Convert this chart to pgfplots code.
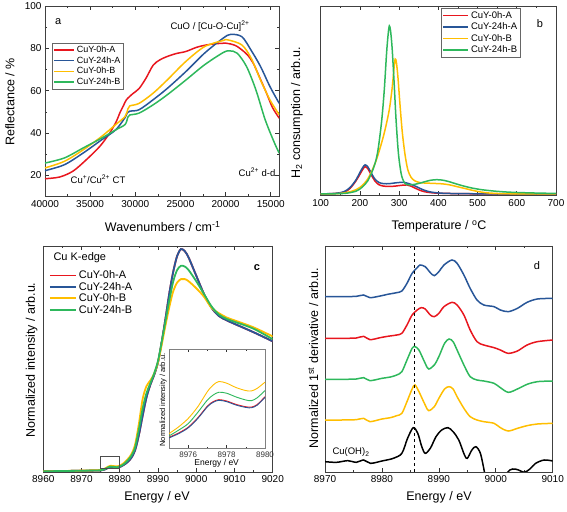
\documentclass[border=0pt]{standalone}
\usepackage{fontspec}
\setmainfont{Liberation Sans}
\usepackage{pgfplots}
\pgfplotsset{compat=1.18}
\definecolor{cred}{RGB}{232,22,30}
\definecolor{cblue}{RGB}{40,86,152}
\definecolor{cyel}{RGB}{255,190,0}
\definecolor{cgreen}{RGB}{46,184,92}
\pgfplotsset{
 base/.style={scale only axis, anchor=south west,
   axis line style={line width=0.8pt, black!75},
   tick style={black!80, line width=0.6pt},
   major tick length=4pt, minor tick length=2pt, tick align=inside,
   scaled ticks=false,
   /pgf/number format/assume math mode=true,
   /pgf/number format/set thousands separator={},
   ticklabel style={font=\fontsize{10}{12}\selectfont},
   legend cell align=left,
   legend image code/.code={\draw[##1] (0pt,0pt) -- (20pt,0pt);},
   legend image post style={line width=1.5pt, sharp plot},
   every axis plot/.append style={line width=1.5pt, no markers, smooth}},
}
\begin{document}
\begin{tikzpicture}
\useasboundingbox (0pt,0pt) rectangle (567pt,511pt);
% ---------------- panel a
\begin{axis}[base, at={(45pt,314.5pt)}, width=234.3pt, height=190.5pt,
  x dir=reverse, xmin=14050, xmax=40000, ymin=10, ymax=100,
  xtick={15000,20000,25000,30000,35000,40000}, minor x tick num=1,
  ytick={20,40,60,80,100}, minor y tick num=1,
  legend style={at={(0.03,0.806)}, anchor=north west, draw=black!60, line width=0.5pt,
    font=\fontsize{9}{10}\selectfont, inner sep=1pt, row sep=-1.5pt}]
\addplot[cred] coordinates {(40000,18.4)(38374,19.2)(36894,22)(35415,27.4)(33925,33.7)(32828,40)(32093,45.5)(31722,49.4)(31300,53)(30983,55.7)(30300,58.5)(29579,61)(28800,66)(28027,72)(27300,74.5)(26548,76)(25500,77.5)(24405,78.5)(23200,80.5)(22114,81.6)(21000,82.2)(19897,82.4)(19000,81.5)(18418,80)(17600,77)(16940,73)(16200,66)(15462,58.8)(14800,52)(14058,47)};
\addlegendentry{CuY-0h-A}
\addplot[cblue] coordinates {(40000,22.2)(37857,25)(35787,30.5)(33718,36.8)(32166,41.5)(31131,47.3)(30900,49.5)(30614,50.3)(29579,51)(28027,55.7)(26474,61)(24405,69)(22335,77.7)(20266,84.8)(19438,86.6)(18196,85.5)(17161,79)(16127,71.4)(15092,62)(14058,54)};
\addlegendentry{CuY-24h-A}
\addplot[cyel] coordinates {(40000,23.5)(37857,26.6)(35787,32)(33718,38.4)(32166,44)(31131,47.8)(30800,51.5)(30614,52.8)(29579,54)(28027,58.8)(26474,65)(24405,73.8)(22335,80.8)(20266,83.7)(19748,84)(18196,81.6)(17161,75.3)(16127,65)(15092,55.7)(14058,48.6)};
\addlegendentry{CuY-0h-B}
\addplot[cgreen] coordinates {(40000,25.8)(37857,28.2)(35787,32.9)(33718,37.6)(32166,41.5)(31131,44)(30820,47.5)(30614,48.5)(29579,49.4)(28027,53.3)(26474,58)(24405,65)(22335,72.2)(20266,78)(19541,78.8)(18713,77.7)(17679,71.4)(16644,60.4)(15609,46.2)(14575,35.2)(14058,30.5)};
\addlegendentry{CuY-24h-B}
\end{axis}
% ---------------- panel b
\begin{axis}[base, at={(320.7pt,315.5pt)}, width=235.3pt, height=189.5pt,
  xmin=100, xmax=700, ymin=-0.8, ymax=100,
  xtick={100,200,...,700}, minor x tick num=1, ytick=\empty,
  legend image code/.code={\draw[#1] (0pt,0pt) -- (25pt,0pt);},
  legend style={at={(0.5125,0.988)}, anchor=north west, draw=black!60, line width=0.5pt,
    font=\fontsize{9.5}{10}\selectfont, inner sep=1pt, row sep=-1pt}]
\addplot[cred] coordinates {(100,0)(140,0.3)(160,1)(175,3)(190,7)(200,10.5)(207,13)(213,14.5)(220,13.5)(228,10.5)(238,7)(248,5)(260,4.2)(275,4)(290,4.2)(305,4.6)(320,4.8)(330,4.2)(340,3.2)(350,2.2)(365,1.2)(385,0.6)(420,0.3)(500,0.1)(700,0)};
\addlegendentry{CuY-0h-A}
\addplot[cblue] coordinates {(100,0)(140,0.4)(160,1.3)(175,3.5)(190,7.5)(200,11.5)(207,14)(213,15.5)(220,14.5)(228,11.5)(238,8)(248,6.2)(260,5.5)(275,5.5)(290,5.9)(305,6.2)(315,6.1)(325,5.5)(340,4.3)(355,2.8)(370,1.6)(385,0.9)(410,0.4)(450,0.2)(550,0.05)(700,0)};
\addlegendentry{CuY-24h-A}
\addplot[cyel] coordinates {(100,0)(150,0.3)(180,1.5)(200,3.5)(220,8)(240,17)(255,27)(265,35)(275,45)(282,56)(287,67)(290,71.8)(293,70)(297,62)(302,48)(308,33)(315,21)(322,13)(330,9)(340,7)(355,6)(380,5.7)(410,5.4)(430,4.8)(450,3.8)(470,2.8)(490,1.8)(510,1.0)(530,0.5)(560,0.2)(600,0.1)(700,0)};
\addlegendentry{CuY-0h-B}
\addplot[cgreen] coordinates {(100,0)(160,0.3)(190,1.5)(205,3.5)(220,7)(235,14)(245,22)(255,38)(262,55)(268,75)(272,85)(275,89.4)(278,87)(282,78)(287,60)(292,40)(298,22)(305,11)(312,6.5)(320,5)(335,5)(350,5.6)(365,6.5)(380,7.3)(395,7.6)(410,7.4)(425,6.7)(445,5.4)(465,4.2)(485,3.2)(510,2.3)(540,1.6)(570,1.1)(600,0.8)(650,0.5)(700,0.3)};
\addlegendentry{CuY-24h-B}
\end{axis}
% ---------------- panel c
\begin{axis}[base, at={(43.3pt,39pt)}, width=229.4pt, height=226pt,
  xmin=8960, xmax=9020, ymin=-0.005, ymax=1.612,
  xtick={8960,8970,...,9020}, minor x tick num=1, ytick=\empty,
  every axis plot/.append style={line width=1.8pt},
  legend image code/.code={\draw[#1] (0pt,0pt) -- (26pt,0pt);},
  legend image post style={line width=1.8pt, sharp plot},
  legend style={at={(0.02,0.905)}, anchor=north west, draw=none, fill=none,
    font=\fontsize{11}{12}\selectfont, inner sep=1pt, row sep=-2pt}]
\addplot[cred] coordinates {(8960,0)(8965,0.002)(8970,0.004)(8973,0.005)(8975,0.0065)(8976,0.0125)(8977,0.0255)(8977.6,0.0295)(8978.5,0.0265)(8979.3,0.0245)(8980,0.031)(8981,0.045)(8982,0.065)(8983,0.095)(8984,0.15)(8985,0.26)(8986,0.40)(8987,0.53)(8988,0.62)(8989,0.69)(8990,0.78)(8991,0.93)(8992,1.10)(8993,1.28)(8994,1.43)(8995,1.54)(8996,1.59)(8997,1.575)(8998,1.53)(9000,1.40)(9002,1.27)(9004,1.17)(9006,1.11)(9008,1.08)(9010,1.055)(9015,0.995)(9020,0.93)};
\addlegendentry{CuY-0h-A}
\addplot[cblue] coordinates {(8960,0)(8965,0.002)(8970,0.004)(8973,0.005)(8975,0.006)(8976,0.012)(8977,0.025)(8977.6,0.029)(8978.5,0.026)(8979.3,0.024)(8980,0.031)(8981,0.045)(8982,0.065)(8983,0.095)(8984,0.15)(8985,0.26)(8986,0.40)(8987,0.53)(8988,0.62)(8989,0.69)(8990,0.78)(8991,0.93)(8992,1.10)(8993,1.28)(8994,1.43)(8995,1.54)(8996,1.59)(8997,1.575)(8998,1.53)(9000,1.40)(9002,1.27)(9004,1.17)(9006,1.11)(9008,1.08)(9010,1.055)(9015,0.995)(9020,0.93)};
\addlegendentry{CuY-24h-A}
\addplot[cyel] coordinates {(8960,0)(8965,0.002)(8970,0.005)(8973,0.007)(8975,0.009)(8976,0.018)(8977,0.034)(8977.6,0.040)(8978.5,0.037)(8979.3,0.035)(8980,0.040)(8981,0.058)(8982,0.085)(8983,0.12)(8984,0.19)(8985,0.34)(8986,0.52)(8987,0.61)(8988,0.65)(8989,0.70)(8990,0.78)(8991,0.91)(8992,1.05)(8993,1.18)(8994,1.29)(8995,1.35)(8996,1.375)(8997,1.375)(8998,1.36)(9000,1.31)(9002,1.25)(9004,1.17)(9006,1.13)(9008,1.10)(9010,1.08)(9015,1.03)(9020,0.965)};
\addlegendentry{CuY-0h-B}
\addplot[cgreen] coordinates {(8960,0)(8965,0.002)(8970,0.004)(8973,0.006)(8975,0.007)(8976,0.015)(8977,0.029)(8977.6,0.034)(8978.5,0.031)(8979.3,0.029)(8980,0.035)(8981,0.05)(8982,0.075)(8983,0.11)(8984,0.17)(8985,0.30)(8986,0.45)(8987,0.56)(8988,0.63)(8989,0.70)(8990,0.79)(8991,0.93)(8992,1.08)(8993,1.23)(8994,1.36)(8995,1.44)(8996,1.47)(8997,1.465)(8998,1.44)(9000,1.36)(9002,1.27)(9004,1.18)(9006,1.12)(9008,1.09)(9010,1.07)(9015,1.02)(9020,0.945)};
\addlegendentry{CuY-24h-B}
\draw[black!70, line width=0.6pt] (axis cs:8975,0.022) rectangle (axis cs:8980,0.105);
\end{axis}
% inset
\begin{axis}[base, at={(169pt,63pt)}, width=96pt, height=99pt,
  xmin=8975, xmax=8980, ymin=0, ymax=0.06,
  xtick={8976,8978,8980}, minor x tick num=1, ytick=\empty,
  axis background/.style={fill=white},
  axis line style={line width=0.6pt, black!50},
  major tick length=3pt, minor tick length=1.5pt,
  ticklabel style={font=\fontsize{8}{9}\selectfont, text=black!80},
  every axis plot/.append style={line width=0.9pt}]
\addplot[cred] coordinates {(8975,0.0065)(8975.5,0.0091)(8976,0.0126)(8976.5,0.0183)(8977,0.0254)(8977.3,0.0281)(8977.6,0.0293)(8978,0.0285)(8978.5,0.0264)(8979,0.025)(8979.3,0.0248)(8979.6,0.0264)(8980,0.0311)};
\addplot[cblue] coordinates {(8975,0.0061)(8975.5,0.0087)(8976,0.0122)(8976.5,0.0179)(8977,0.025)(8977.3,0.0277)(8977.6,0.0289)(8978,0.0281)(8978.5,0.026)(8979,0.0246)(8979.3,0.0244)(8979.6,0.026)(8980,0.0307)};
\addplot[cyel] coordinates {(8975,0.0087)(8975.5,0.0128)(8976,0.0179)(8976.5,0.025)(8977,0.0342)(8977.3,0.0382)(8977.6,0.0403)(8978,0.0393)(8978.5,0.0366)(8979,0.0348)(8979.3,0.0346)(8979.6,0.0362)(8980,0.0399)};
\addplot[cgreen] coordinates {(8975,0.0073)(8975.5,0.0108)(8976,0.0148)(8976.5,0.0216)(8977,0.0291)(8977.3,0.0321)(8977.6,0.0338)(8978,0.0332)(8978.5,0.0309)(8979,0.0291)(8979.3,0.0287)(8979.6,0.0305)(8980,0.0348)};
\end{axis}
% ---------------- panel d
\begin{axis}[base, at={(325pt,39pt)}, width=227.7pt, height=226pt,
  xmin=8970, xmax=9010, ymin=0, ymax=6.78,
  xtick={8970,8980,...,9010}, minor x tick num=1, ytick=\empty]
\addplot[cblue] coordinates {(8970,5.26)(8973,5.26)(8975.5,5.27)(8976.8,5.31)(8977.9,5.23)(8979.7,5.28)(8981,5.33)(8982.6,5.38)(8983.5,5.43)(8984.4,5.66)(8985.3,5.96)(8986.2,6.13)(8986.7,6.21)(8987.6,6.16)(8988.5,5.98)(8989.2,5.89)(8990,6.01)(8990.9,6.21)(8992.3,6.36)(8993.2,6.26)(8994.4,5.91)(8995.5,5.51)(8996.7,5.16)(8997.9,5.01)(8999.7,4.96)(9000.8,4.86)(9002.2,4.81)(9003.8,4.91)(9005.5,5.09)(9007.3,5.19)(9010,5.21)};
\addplot[cred] coordinates {(8970,4.01)(8973,4.01)(8975.5,4.02)(8976.8,4.07)(8977.9,3.97)(8979.7,4.03)(8981,4.07)(8982.6,4.11)(8983.5,4.16)(8984.4,4.41)(8985.3,4.71)(8986.2,4.86)(8986.9,4.93)(8987.6,4.89)(8988.5,4.71)(8989.2,4.66)(8990,4.76)(8990.9,4.96)(8992.3,5.09)(8993.2,5.01)(8994.4,4.71)(8995.5,4.26)(8996.7,3.91)(8997.9,3.81)(8999.7,3.73)(9000.8,3.66)(9002.2,3.56)(9003.8,3.63)(9005.5,3.81)(9007.3,3.91)(9010,3.96)};
\addplot[cgreen] coordinates {(8970,2.78)(8973,2.78)(8975.5,2.79)(8976.8,2.83)(8977.9,2.74)(8980,2.81)(8981.5,2.85)(8982.6,2.91)(8983.5,3.01)(8984.4,3.36)(8985.3,3.71)(8985.8,3.76)(8986.5,3.66)(8987.6,3.26)(8988.2,3.09)(8989.2,3.21)(8990,3.46)(8991,3.86)(8991.8,3.99)(8992.5,3.91)(8993.2,3.66)(8994.4,3.21)(8995.5,2.86)(8996.7,2.76)(8997.9,2.73)(8999.7,2.66)(9000.8,2.53)(9002.2,2.39)(9003.8,2.49)(9005.5,2.63)(9007.3,2.71)(9010,2.73)};
\addplot[cyel] coordinates {(8970,1.56)(8973,1.56)(8975.5,1.57)(8976.8,1.61)(8977.9,1.51)(8980,1.59)(8981.5,1.63)(8982.6,1.69)(8983.5,1.76)(8984.4,2.11)(8985.3,2.49)(8985.8,2.61)(8986.5,2.41)(8987.6,2.01)(8988.2,1.84)(8989.2,1.96)(8990,2.21)(8991,2.49)(8991.8,2.56)(8992.5,2.49)(8993.2,2.26)(8994.4,1.91)(8995.5,1.66)(8996.7,1.56)(8997.9,1.51)(8999.7,1.46)(9000.8,1.33)(9002.2,1.23)(9003.8,1.31)(9005.5,1.39)(9007.3,1.44)(9010,1.46)};
\addplot[black] coordinates {(8970,0.31)(8972,0.29)(8974,0.34)(8975.5,0.29)(8976.8,0.36)(8978,0.26)(8980,0.33)(8982,0.41)(8983.5,0.56)(8984.5,1.01)(8985.5,1.33)(8986.3,1.16)(8987,0.76)(8987.6,0.56)(8988.5,0.71)(8989.5,1.06)(8990.5,1.26)(8991.6,1.33)(8992.5,1.21)(8993.5,0.96)(8994.5,0.51)(8995,0.41)(8995.8,0.66)(8996.5,0.76)(8997.3,0.56)(8998,0.01)(8998.7,-0.6)(8999.5,-1.0)(9000.5,-1.0)(9001.3,-0.5)(9002,-0.02)(9003,0.09)(9004,0.06)(9005,-0.01)(9006,0.09)(9007,0.26)(9008.5,0.36)(9010,0.33)};
\addplot[black, dashed, line width=0.9pt, sharp plot] coordinates {(8985.8,0)(8985.8,6.78)};
\end{axis}
% ---------------- labels
\def\lab{\fontsize{12.5}{14}\selectfont}
\def\ann{\fontsize{9.5}{11}\selectfont}
\node[rotate=90,font=\lab] at (10pt,409.3pt) {Reflectance / \%};
\node[font=\lab] at (162.7pt,284.3pt) {Wavenumbers / cm\textsuperscript{-1}};
\node[rotate=90,font=\lab] at (297pt,398pt) {H\textsubscript{2} consumption / arb.u.};
\node[font=\lab] at (439pt,284.3pt) {Temperature / \textsuperscript{o}C};
\node[rotate=90,font=\lab] at (31.7pt,151pt) {Normalized intensity / arb.u.};
\node[font=\lab] at (157pt,14pt) {Energy / eV};
\node[rotate=90,font=\lab] at (313.3pt,153pt) {Normalized 1\textsuperscript{st} derivative / arb.u.};
\node[font=\lab] at (439pt,14pt) {Energy / eV};
\node[font=\fontsize{11}{12}\selectfont] at (58.3pt,489.3pt) {a};
\node[font=\fontsize{11}{12}\selectfont] at (540pt,487pt) {b};
\node[font=\fontsize{11}{12}\selectfont\bfseries] at (257pt,243pt) {c};
\node[font=\fontsize{11}{12}\selectfont] at (537pt,245pt) {d};
\node[font=\ann] at (210pt,485pt) {CuO / [Cu-O-Cu]\textsuperscript{2+}};
\node[font=\ann] at (98pt,332pt) {Cu\textsuperscript{+}/Cu\textsuperscript{2+} CT};
\node[font=\ann] at (257pt,339pt) {Cu\textsuperscript{2+} d-d};
\node[font=\ann] at (351pt,59pt) {Cu(OH)\textsubscript{2}};
\node[font=\fontsize{11}{12}\selectfont, anchor=west] at (50pt,253pt) {Cu K-edge};
\node[font=\fontsize{8.5}{10}\selectfont] at (216.7pt,47.7pt) {Energy / eV};
\node[rotate=90,font=\fontsize{7.5}{9}\selectfont] at (163.3pt,111pt) {Normalized intensity / arb.u.};
\end{tikzpicture}
\end{document}
